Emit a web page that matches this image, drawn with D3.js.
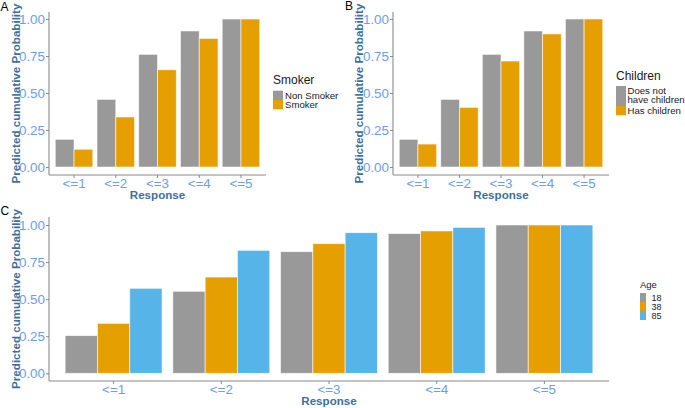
<!DOCTYPE html>
<html>
<head>
<meta charset="utf-8">
<script src="https://cdn.jsdelivr.net/npm/d3@7"></script>
<style>
  html, body { margin: 0; padding: 0; background: #ffffff; }
  svg { display: block; font-family: "Liberation Sans", Arial, sans-serif; }
</style>
</head>
<body>
<svg id="chart" width="685" height="408"></svg>
<script>
// ---------------- data ----------------
const categories = ["<=1", "<=2", "<=3", "<=4", "<=5"];
const yTicks = [0, 0.25, 0.5, 0.75, 1.0];

const smokerGroups = ["Non Smoker", "Smoker"];
const nonSmoker = [0.187, 0.457, 0.761, 0.919, 1.0];
const smoker    = [0.12, 0.338, 0.657, 0.869, 1.0];

const childrenGroups = ["Does not have children", "Has children"];
const noChildren  = [0.187, 0.457, 0.761, 0.919, 1.0];
const hasChildren = [0.155, 0.403, 0.716, 0.899, 1.0];

const ageGroups = ["18", "38", "85"];
const age18 = [0.254, 0.553, 0.820, 0.942, 1.0];
const age38 = [0.337, 0.649, 0.874, 0.960, 1.0];
const age85 = [0.573, 0.829, 0.948, 0.984, 1.0];

const colors = ["#999999", "#E69F00", "#56B4E9"];

// ---------------- drawing ----------------
const svg = d3.select("#chart");
const tickColor = "#6d9eeb";
const titleColor = "#3f6e9c";
const axisColor = "#8a8a8a";

function panel(opts) {
  const { x0, x1, yTop, yBot, y0, y1, series, groups, letter, letterX, letterY, yTitleX } = opts;
  const g = svg.append("g");
  const x = d3.scaleBand().domain(categories).range([x0, x1]).paddingInner(0.1).paddingOuter(0.15);
  const xs = d3.scaleBand().domain(groups).range([0, x.bandwidth()]).padding(0);
  const y = d3.scaleLinear().domain([0, 1]).range([y0, y1]);

  // bars
  groups.forEach((grp, gi) => {
    g.selectAll(null).data(series[gi]).enter().append("rect")
      .attr("x", (d, i) => x(categories[i]) + xs(grp))
      .attr("y", d => y(d))
      .attr("width", xs.bandwidth())
      .attr("height", d => y(0) - y(d))
      .attr("fill", colors[gi])
      .attr("stroke", "#ffffff")
      .attr("stroke-opacity", 0.7)
      .attr("stroke-width", 0.8);
  });

  // y axis
  const ya = g.append("g").attr("transform", `translate(${x0},0)`)
    .call(d3.axisLeft(y).tickValues(yTicks).tickFormat(d3.format(".2f")).tickSize(3).tickSizeOuter(0).tickPadding(1));
  ya.select(".domain").remove();
  ya.selectAll(".tick line").attr("stroke", axisColor);
  ya.selectAll(".tick text").attr("fill", tickColor).attr("font-size", "13.4px")
    .attr("font-family", "'Liberation Sans', Arial, sans-serif");
  g.append("line").attr("x1", x0).attr("x2", x0).attr("y1", yTop).attr("y2", yBot)
    .attr("stroke", axisColor).attr("stroke-width", 1.1);

  // x axis
  const xa = g.append("g").attr("transform", `translate(0,${yBot})`)
    .call(d3.axisBottom(x).tickSize(3).tickSizeOuter(0).tickPadding(0.5));
  xa.select(".domain").remove();
  xa.selectAll(".tick line").attr("stroke", axisColor);
  xa.selectAll(".tick text").attr("fill", tickColor).attr("font-size", "13.4px")
    .attr("font-family", "'Liberation Sans', Arial, sans-serif");
  g.append("line").attr("x1", x0).attr("x2", x1).attr("y1", yBot).attr("y2", yBot)
    .attr("stroke", axisColor).attr("stroke-width", 1.1);

  // axis titles
  g.append("text").attr("x", (x0 + x1) / 2).attr("y", yBot + 24)
    .attr("text-anchor", "middle").attr("font-weight", "bold").attr("font-size", "11.6px")
    .attr("fill", titleColor).text("Response");
  g.append("text")
    .attr("transform", `translate(${yTitleX},${(yTop + yBot) / 2}) rotate(-90)`)
    .attr("text-anchor", "middle").attr("font-weight", "bold").attr("font-size", "11.6px")
    .attr("fill", titleColor).text("Predicted cumulative Probability");

  // panel letter
  svg.append("text").attr("x", letterX).attr("y", letterY).attr("font-size", "12px")
    .attr("fill", "#000").text(letter);
}

panel({ x0: 49, x1: 266, yTop: 12, yBot: 175, y0: 167, y1: 19,
  series: [nonSmoker, smoker], groups: smokerGroups, letter: "A", letterX: 0.5, letterY: 11, yTitleX: 20 });
panel({ x0: 393, x1: 609, yTop: 12, yBot: 175, y0: 167, y1: 19,
  series: [noChildren, hasChildren], groups: childrenGroups, letter: "B", letterX: 345, letterY: 10, yTitleX: 363 });
panel({ x0: 49, x1: 609, yTop: 217, yBot: 381, y0: 373.3, y1: 225,
  series: [age18, age38, age85], groups: ageGroups, letter: "C", letterX: 0.5, letterY: 215, yTitleX: 20 });

// ---------------- legends ----------------
const textCol = "#1a1a1a";
// A
const lA = svg.append("g");
lA.append("text").attr("x", 273).attr("y", 84).attr("font-size", "12px").attr("fill", textCol).text("Smoker");
smokerGroups.forEach((s, i) => {
  lA.append("rect").attr("x", 273).attr("y", 90.7 + i * 9.3).attr("width", 10).attr("height", 9.3).attr("fill", colors[i]);
  lA.append("text").attr("x", 285).attr("y", 90.7 + i * 9.3 + 4.65).attr("dy", "0.35em")
    .attr("font-size", "9.6px").attr("fill", textCol).text(s);
});
// B
const lB = svg.append("g");
lB.append("text").attr("x", 616).attr("y", 80).attr("font-size", "12px").attr("fill", textCol).text("Children");
lB.append("rect").attr("x", 616).attr("y", 86).attr("width", 10).attr("height", 20).attr("fill", colors[0]);
lB.append("rect").attr("x", 616).attr("y", 106).attr("width", 10).attr("height", 9.3).attr("fill", colors[1]);
lB.append("text").attr("x", 627.5).attr("y", 93.7).attr("font-size", "9.6px").attr("fill", textCol).text("Does not");
lB.append("text").attr("x", 627.5).attr("y", 103.3).attr("font-size", "9.6px").attr("fill", textCol).text("have children");
lB.append("text").attr("x", 627.5).attr("y", 110.65).attr("dy", "0.35em").attr("font-size", "9.6px").attr("fill", textCol).text(childrenGroups[1]);
// C
const lC = svg.append("g");
lC.append("text").attr("x", 640).attr("y", 287.5).attr("font-size", "9.5px").attr("fill", textCol).text("Age");
ageGroups.forEach((s, i) => {
  lC.append("rect").attr("x", 640).attr("y", 293 + i * 9).attr("width", 6).attr("height", 9).attr("fill", colors[i]);
  lC.append("text").attr("x", 651.5).attr("y", 293 + i * 9 + 4.5).attr("dy", "0.35em")
    .attr("font-size", "9px").attr("fill", textCol).text(s);
});
</script>
</body>
</html>
